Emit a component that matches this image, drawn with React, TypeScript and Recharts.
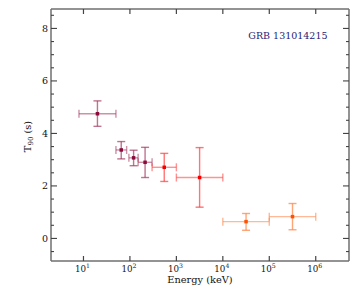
import React from "react";
import { ScatterChart, Scatter, XAxis, YAxis, ErrorBar } from "recharts";

// energy bins (keV) and T90 (s)
const energy = [20, 65, 120, 212, 548, 3162, 31623, 316228];
const energyLo = [8, 50, 95, 150, 300, 1000, 10000, 100000];
const energyHi = [50, 85, 150, 300, 1000, 10000, 100000, 1000000];
const t90 = [4.75, 3.37, 3.07, 2.9, 2.71, 2.32, 0.64, 0.83];
const t90Lo = [4.27, 3.03, 2.77, 2.32, 2.17, 1.19, 0.31, 0.33];
const t90Hi = [5.24, 3.69, 3.36, 3.47, 3.24, 3.46, 0.95, 1.33];
const pointGroup = ["nai", "nai", "nai", "nai", "bgo", "bgo", "lat", "lat"];

const xTicks = [10, 100, 1000, 10000, 100000, 1000000];
const yTicks = [
  -0.5, 0, 0.5, 1, 1.5, 2, 2.5, 3, 3.5, 4, 4.5, 5, 5.5, 6, 6.5, 7, 7.5, 8, 8.5,
];
const yLabels = [0, 2, 4, 6, 8];

const groups = [
  { key: "nai", dot: "#8a0a3c", bar: "#a3385f" },
  { key: "bgo", dot: "#f20000", bar: "#ff3b3b" },
  { key: "lat", dot: "#ff5200", bar: "#ff8040" },
];

const FONT = "'DejaVu Serif', serif";
const AXIS = "#6f6f6f";
const TICK = "#444";

const rows = energy.map((e, i) => ({
  energy: e,
  t90: t90[i],
  xErr: [e - energyLo[i], energyHi[i] - e],
  yErr: [t90[i] - t90Lo[i], t90Hi[i] - t90[i]],
  group: pointGroup[i],
}));

function BottomTick({ x, y, payload }: any) {
  const exp = Math.round(Math.log10(payload.value));
  return (
    <g>
      <line x1={x} y1={y} x2={x} y2={y - 5} stroke={TICK} strokeWidth={1.2} />
      <text
        x={x - 1}
        y={y + 11}
        textAnchor="middle"
        fontFamily={FONT}
        fontSize={8.7}
        fill="#111"
      >
        10
        <tspan dy={-3.6} fontSize={6.2}>
          {exp}
        </tspan>
      </text>
    </g>
  );
}

function TopTick({ x, y }: any) {
  return <line x1={x} y1={y} x2={x} y2={y + 5} stroke={TICK} strokeWidth={1.2} />;
}

function LeftTick({ x, y, payload }: any) {
  const major = yLabels.includes(payload.value);
  return (
    <g>
      <line x1={x} y1={y} x2={x + (major ? 6 : 3)} y2={y} stroke={TICK} strokeWidth={1.1} />
      {major && (
        <text
          x={x - 3}
          y={y}
          dy="0.36em"
          textAnchor="end"
          fontFamily={FONT}
          fontSize={9.5}
          fill="#111"
        >
          {payload.value}
        </text>
      )}
    </g>
  );
}

function RightTick({ x, y, payload }: any) {
  const major = yLabels.includes(payload.value);
  return (
    <line x1={x} y1={y} x2={x - (major ? 6 : 3)} y2={y} stroke={TICK} strokeWidth={1.1} />
  );
}

function Marker({ cx, cy, fill }: any) {
  if (cx == null || cy == null) return null;
  return <rect x={cx - 1.75} y={cy - 1.75} width={3.5} height={3.5} fill={fill} />;
}

export default function App() {
  return (
    <div style={{ position: "absolute", left: 0, top: 0, width: 354, height: 290 }}>
      <ScatterChart
        width={354}
        height={290}
        margin={{ top: 5, right: 1, left: 0, bottom: 0 }}
      >
        <XAxis
          xAxisId="b"
          dataKey="energy"
          type="number"
          scale="log"
          domain={[2, 5.2e6]}
          allowDataOverflow
          ticks={xTicks}
          interval={0}
          tick={<BottomTick />}
          tickLine={false}
          tickSize={0}
          tickMargin={0}
          axisLine={{ stroke: AXIS, strokeWidth: 1.5 }}
          height={29}
          label={{
            value: "Energy (keV)",
            position: "insideBottom",
            offset: 7,
            fontFamily: FONT,
            fontSize: 9.8,
            fill: "#111",
          }}
        />
        <XAxis
          xAxisId="t"
          orientation="top"
          dataKey="energy"
          type="number"
          scale="log"
          domain={[2, 5.2e6]}
          allowDataOverflow
          ticks={xTicks}
          interval={0}
          tick={<TopTick />}
          tickLine={false}
          tickSize={0}
          tickMargin={0}
          axisLine={{ stroke: AXIS, strokeWidth: 1.5 }}
          height={4}
        />
        <YAxis
          yAxisId="l"
          dataKey="t90"
          type="number"
          domain={[-0.86, 8.74]}
          allowDataOverflow
          ticks={yTicks}
          interval={0}
          tick={<LeftTick />}
          tickLine={false}
          tickSize={0}
          tickMargin={0}
          axisLine={{ stroke: AXIS, strokeWidth: 1.5 }}
          width={51}
        />
        <YAxis
          yAxisId="r"
          orientation="right"
          dataKey="t90"
          type="number"
          domain={[-0.86, 8.74]}
          allowDataOverflow
          ticks={yTicks}
          interval={0}
          tick={<RightTick />}
          tickLine={false}
          tickSize={0}
          tickMargin={0}
          axisLine={{ stroke: AXIS, strokeWidth: 1.5 }}
          width={4}
        />
        {groups.map((g) => (
          <Scatter
            key={g.key}
            xAxisId="b"
            yAxisId="l"
            data={rows.filter((r) => r.group === g.key)}
            fill={g.dot}
            shape={<Marker />}
            isAnimationActive={false}
          >
            <ErrorBar
              dataKey="xErr"
              direction="x"
              stroke={g.bar}
              strokeOpacity={0.55}
              strokeWidth={1.4}
              width={4}
              isAnimationActive={false}
            />
            <ErrorBar
              dataKey="yErr"
              direction="y"
              stroke={g.bar}
              strokeOpacity={0.7}
              strokeWidth={1.4}
              width={4}
              isAnimationActive={false}
            />
          </Scatter>
        ))}
      </ScatterChart>
      <svg
        width={354}
        height={290}
        style={{ position: "absolute", left: 0, top: 0, pointerEvents: "none" }}
      >
        <text
          x={327.5}
          y={38.7}
          textAnchor="end"
          fontFamily={FONT}
          fontSize={9.5}
          fill="#1c1c78"
        >
          GRB 131014215
        </text>
        <text
          transform="translate(30.5,136.5) rotate(-90)"
          textAnchor="middle"
          fontFamily={FONT}
          fontSize={9.8}
          fill="#111"
        >
          T
          <tspan dy={2.5} fontSize={7}>
            90
          </tspan>
          <tspan dy={-2.5}> (s)</tspan>
        </text>
      </svg>
    </div>
  );
}
